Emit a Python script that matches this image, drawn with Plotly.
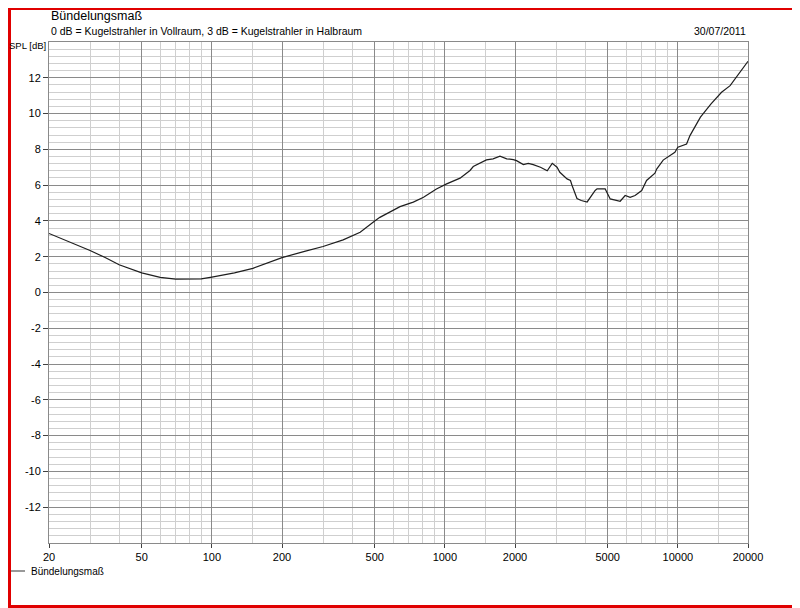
import numpy as np
import plotly.graph_objects as go

# Bündelungsmaß curve
freq = [20, 25, 30, 35, 40, 50, 60, 70, 80, 90, 100, 125, 150, 200, 250, 300,
        366, 433, 500, 526, 642, 732, 810, 920, 1018, 1162, 1282, 1324, 1508,
        1610, 1724, 1843, 1968, 2030, 2172, 2280, 2395, 2572, 2750, 2890, 3030,
        3115, 3346, 3460, 3516, 3690, 3850, 4080, 4416, 4500, 4875, 5125, 5654,
        5940, 6240, 6550, 6996, 7340, 7974, 8110, 8650, 9090, 9710, 10000,
        10520, 10900, 11270, 12500, 13880, 15400, 16760, 18230, 19680, 20000]
spl = [3.30, 2.78, 2.35, 1.94, 1.55, 1.10, 0.85, 0.75, 0.74, 0.76, 0.86, 1.10,
       1.35, 1.95, 2.30, 2.57, 2.94, 3.37, 4.00, 4.20, 4.80, 5.05, 5.32, 5.79,
       6.07, 6.39, 6.82, 7.04, 7.41, 7.47, 7.62, 7.47, 7.43, 7.37, 7.15, 7.22,
       7.15, 7.00, 6.80, 7.22, 7.00, 6.72, 6.35, 6.26, 5.98, 5.25, 5.14, 5.06,
       5.70, 5.79, 5.79, 5.23, 5.10, 5.42, 5.32, 5.42, 5.70, 6.26, 6.67, 6.90,
       7.40, 7.58, 7.84, 8.12, 8.21, 8.30, 8.77, 9.80, 10.54, 11.19, 11.56,
       12.22, 12.78, 12.92]

x_major = [20, 50, 100, 200, 500, 1000, 2000, 5000, 10000, 20000]
x_labels = ["20", "50", "100", "200", "500", "1000", "2000", "5000", "10000", "20000"]
x_minor = [30, 40, 60, 70, 80, 90, 150, 300, 400, 600, 700, 800, 900, 1500,
           3000, 4000, 6000, 7000, 8000, 9000, 15000]
y_major = [12, 10, 8, 6, 4, 2, 0, -2, -4, -6, -8, -10, -12]
y_labels = ["12", "10", "8", "6", "4", "2", "0", "-2", "-4", "-6", "-8", "-10", "-12"]

title = "Bündelungsmaß"
subtitle = "0 dB = Kugelstrahler in Vollraum, 3 dB = Kugelstrahler in Halbraum"
date = "30/07/2011"

# the page body has an 8px margin, so the figure is laid out 8px in
OFF = 8
W, H = 800 - OFF, 608 - OFF
L, R, T, B = 41, 52, 34, 65
pw, ph = W - L - R, H - T - B

major_col = "#8a8a8a"
minor_col = "#cfcfcf"
red = "#e00000"
fam = "Liberation Sans, Arial, sans-serif"
font = dict(family=fam, size=11, color="#000000")

fig = go.Figure()
fig.add_trace(go.Scatter(
    x=freq, y=spl, mode="lines", name=title,
    line=dict(color="#1e1e1e", width=1.2),
    showlegend=False,
))


def px(xp):
    # page pixel -> paper fraction
    return (xp - OFF - L) / pw


def py(yp):
    return (H - B - (yp - OFF)) / ph


shapes = [
    # short legend sample line
    dict(type="line", xref="paper", yref="paper", x0=px(10), x1=px(25),
         y0=py(571), y1=py(571), line=dict(color="#555555", width=1.2)),
    # red window border (right/bottom thick, top/left thin at the figure edge)
    dict(type="line", xref="paper", yref="paper", x0=px(798), x1=px(798),
         y0=py(608), y1=py(OFF), line=dict(color=red, width=4)),
    dict(type="line", xref="paper", yref="paper", x0=px(OFF), x1=px(800),
         y0=py(606.5), y1=py(606.5), line=dict(color=red, width=3)),
    dict(type="line", xref="paper", yref="paper", x0=px(OFF), x1=px(800),
         y0=py(OFF + 1), y1=py(OFF + 1), line=dict(color=red, width=2)),
    dict(type="line", xref="paper", yref="paper", x0=px(OFF + 1.5), x1=px(OFF + 1.5),
         y0=py(608), y1=py(OFF), line=dict(color=red, width=3)),
]

annotations = [
    dict(text=title, xref="paper", yref="paper", x=0, y=1, xanchor="left",
         yanchor="middle", yshift=26, showarrow=False,
         font=dict(family=fam, size=12.5, color="#000")),
    dict(text=subtitle, xref="paper", yref="paper", x=0, y=1, xanchor="left",
         yanchor="middle", yshift=11, showarrow=False,
         font=dict(family=fam, size=10.5, color="#000")),
    dict(text=date, xref="paper", yref="paper", x=1, y=1, xanchor="right",
         yanchor="middle", yshift=11, showarrow=False,
         font=dict(family=fam, size=10.5, color="#000")),
    dict(text="SPL [dB]", xref="paper", yref="paper", x=0, y=1, xanchor="right",
         yanchor="middle", yshift=-3, xshift=-1, showarrow=False,
         font=dict(family=fam, size=9.5, color="#000")),
    dict(text=title, xref="paper", yref="paper", x=px(29), y=py(571),
         xanchor="left", yanchor="middle", showarrow=False,
         font=dict(family=fam, size=10, color="#000")),
]

fig.update_layout(
    width=W, height=H,
    margin=dict(l=L, r=R, t=T, b=B, pad=0),
    paper_bgcolor="white", plot_bgcolor="white",
    font=font,
    shapes=shapes,
    annotations=annotations,
    showlegend=False,
)

fig.update_xaxes(
    type="log", range=[np.log10(20), np.log10(20000)],
    tickmode="array", tickvals=x_major, ticktext=x_labels,
    showgrid=True, gridcolor=major_col, gridwidth=1,
    minor=dict(tickmode="array", tickvals=x_minor, showgrid=True,
               gridcolor=minor_col, gridwidth=1, ticks=""),
    ticks="outside", ticklen=4, tickcolor="#404040",
    showline=True, linecolor=major_col, mirror=True,
    zeroline=False,
)
fig.update_yaxes(
    range=[-14, 14], tickmode="array", tickvals=y_major, ticktext=y_labels,
    showgrid=True, gridcolor=major_col, gridwidth=1,
    minor=dict(tickmode="linear", tick0=0, dtick=0.4, showgrid=True,
               gridcolor=minor_col, gridwidth=1, ticks=""),
    ticks="outside", ticklen=5, tickcolor="#404040",
    showline=True, linecolor=major_col, mirror=True,
    zeroline=False,
)

fig.write_html("out.html")
